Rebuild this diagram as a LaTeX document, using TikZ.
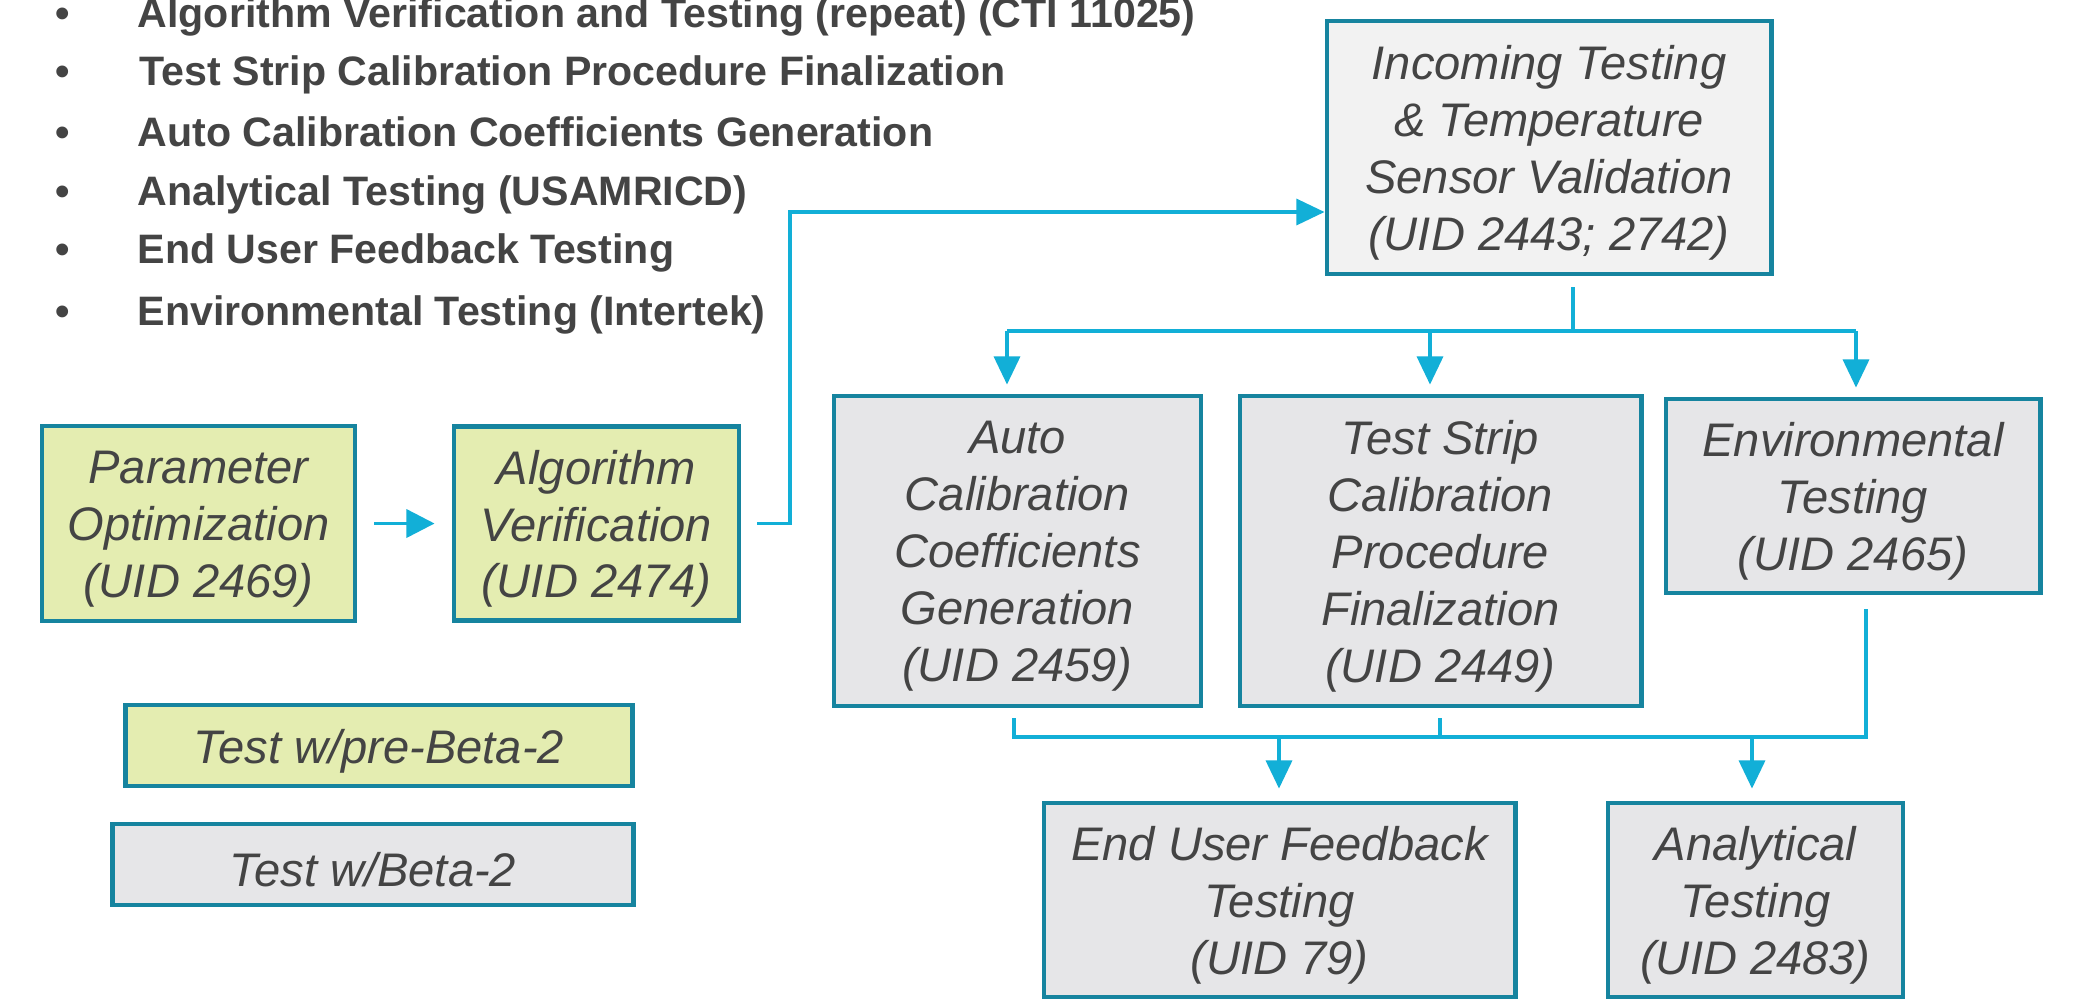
\documentclass[tikz,border=0pt]{standalone}
\usepackage{fontspec}
\setmainfont{Liberation Sans}
\usetikzlibrary{arrows.meta}
\definecolor{bordc}{HTML}{16849F}
\definecolor{connc}{HTML}{12AFD7}
\definecolor{greenf}{HTML}{E4EDB1}
\definecolor{grayf}{HTML}{E6E6E8}
\definecolor{lightf}{HTML}{F2F2F2}
\definecolor{txtc}{HTML}{444444}
\begin{document}
\begin{tikzpicture}[x=0.01cm,y=-0.01cm,
 box/.style={draw=bordc, line width=1.35pt, rectangle, inner sep=0pt},
 boxtxt/.style={inner sep=0pt, align=center, text=txtc, yshift=-0.053cm, font=\fontsize{13.4}{16.2}\selectfont\itshape},
 greenbox/.style={box, fill=greenf},
 graybox/.style={box, fill=grayf},
 line/.style={draw=connc, line width=0.95pt},
 conn/.style={line, -{Triangle[length=8pt,width=7.4pt]}},
 bullet/.style={anchor=base west, inner sep=0pt, text=txtc, font=\fontsize{11.7}{14}\selectfont\bfseries}]

\useasboundingbox[fill=white] (0,0) rectangle (2075,999);

% bullet list
\node[bullet] (d1) at (55,27) {•};
\node[bullet] (d2) at (55,85) {•};
\node[bullet] (d3) at (55,146) {•};
\node[bullet] (d4) at (55,205) {•};
\node[bullet] (d5) at (55,263) {•};
\node[bullet] (d6) at (55,325) {•};
\node[bullet] (b1) at (137,27) {Algorithm Verification and Testing (repeat) (CTI 11025)};
\node[bullet] (b2) at (139,85) {Test Strip Calibration Procedure Finalization};
\node[bullet] (b3) at (137,146) {Auto Calibration Coefficients Generation};
\node[bullet] (b4) at (137,205) {Analytical Testing (USAMRICD)};
\node[bullet] (b5) at (137,263) {End User Feedback Testing};
\node[bullet] (b6) at (137,325) {Environmental Testing (Intertek)};

% boxes
\node[greenbox, minimum width=3.13cm, minimum height=1.95cm,
  label={[boxtxt]center:{Parameter\\Optimization\\(UID 2469)}}] (param) at (198.5,523.5) {};
\node[greenbox, minimum width=2.85cm, minimum height=1.94cm,
  label={[boxtxt]center:{Algorithm\\Verification\\(UID 2474)}}] (algo) at (596.5,523.5) {};
\node[box, fill=lightf, minimum width=4.44cm, minimum height=2.53cm,
  label={[boxtxt]center:{Incoming Testing\\\& Temperature\\Sensor Validation\\(UID 2443; 2742)}}] (incoming) at (1549,147.5) {};
\node[graybox, minimum width=3.67cm, minimum height=3.10cm,
  label={[boxtxt]center:{Auto\\Calibration\\Coefficients\\Generation\\(UID 2459)}}] (auto) at (1017.5,551) {};
\node[graybox, minimum width=4.01cm, minimum height=3.10cm,
  label={[boxtxt]center:{Test Strip\\Calibration\\Procedure\\Finalization\\(UID 2449)}}] (strip) at (1440.5,551) {};
\node[graybox, minimum width=3.74cm, minimum height=1.94cm,
  label={[boxtxt]center:{Environmental\\Testing\\(UID 2465)}}] (env) at (1853,496) {};
\node[graybox, minimum width=4.71cm, minimum height=1.94cm,
  label={[boxtxt]center:{End User Feedback\\Testing\\(UID 79)}}] (enduser) at (1279.5,900) {};
\node[graybox, minimum width=2.95cm, minimum height=1.94cm,
  label={[boxtxt]center:{Analytical\\Testing\\(UID 2483)}}] (analyt) at (1755.5,900) {};
\node[greenbox, minimum width=5.06cm, minimum height=0.81cm,
  label={[boxtxt]center:{Test w/pre-Beta-2}}] (legA) at (379,745.5) {};
\node[graybox, minimum width=5.20cm, minimum height=0.81cm,
  label={[boxtxt]center:{Test w/Beta-2}}] (legB) at (373,864.5) {};

% connectors
\draw[line, -{Triangle[length=8pt,width=8pt]}, shorten <=0.17cm, shorten >=0.17cm] (param.east) -- (algo.west);
\coordinate (bendA) at (790,212);
\draw[conn] ([xshift=0.16cm]algo.east) -| (bendA) -- (incoming.west |- bendA);

\coordinate (tTop) at (1573,287);
\coordinate (tMid) at (1573,331);
\coordinate (tL) at (1007,331);
\coordinate (tC) at (1430,331);
\coordinate (tR) at (1856,331);
\draw[line] (tTop) -- (tMid);
\draw[line] (tL) -- (tR);
\draw[conn, shorten >=0.09cm] (tL) -- (tL |- auto.north);
\draw[conn, shorten >=0.09cm] (tC) -- (tC |- strip.north);
\draw[conn, shorten >=0.09cm] (tR) -- (tR |- env.north);

\coordinate (bA) at (1014,718);
\coordinate (bAb) at (1014,737);
\coordinate (bS) at (1440,718);
\coordinate (bE) at (1866,609);
\coordinate (bEb) at (1866,737);
\coordinate (bU) at (1279,737);
\coordinate (bN) at (1752,737);
\draw[line] (bA) -- (bAb) -- (bEb) -- (bE);
\draw[line] (bS) -- (bS |- bAb);
\draw[conn, shorten >=0.12cm] (bU) -- (bU |- enduser.north);
\draw[conn, shorten >=0.12cm] (bN) -- (bN |- analyt.north);
\end{tikzpicture}
\end{document}
